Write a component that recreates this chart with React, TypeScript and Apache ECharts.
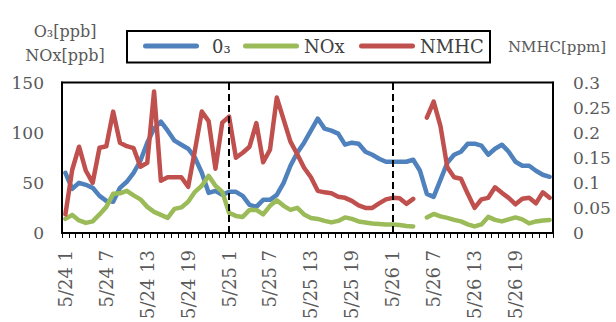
import React, { useEffect, useRef } from "react";
import * as echarts from "echarts";

// Hourly observations, 5/24 1h through 5/26 24h
const days = ["5/24", "5/25", "5/26"];
const hours = [1, 2, 3, 4, 5, 6, 7, 8, 9, 10, 11, 12, 13, 14, 15, 16, 17, 18, 19, 20, 21, 22, 23, 24];

// O3 [ppb]
const o3 = [
  60, 44, 50, 48, 45, 37, 32, 31, 45, 51,
  60, 72, 90, 104, 111, 102, 92, 88, 84, 75,
  60, 40, 42, 38, 41, 41, 37, 28, 26, 33,
  33, 38, 50, 67, 80, 90, 102, 114, 104, 102,
  99, 88, 90, 89, 81, 78, 74, 71, 71, 71,
  71, 73, 62, 39, 36, 53, 70, 78, 81, 89,
  89, 87, 78, 84, 88, 81, 71, 67, 67, 62,
  58, 56,
];

// NOx [ppb]
const nox = [
  14, 18, 12.5, 10, 11.5, 18.5, 26, 39, 39.5, 42,
  37.5, 33.5, 26, 21, 18, 15, 24, 25.5, 31, 41,
  47, 57, 47, 41, 20, 17, 16, 23, 23, 18.5,
  27, 32.5, 27, 23, 25, 18.5, 15, 14, 12, 10.5,
  12, 15.5, 14, 11.5, 10.5, 9.5, 9, 8.5, 8.5, 8,
  7, 6.5, null, 15.5, 19, 16.5, 15, 13, 11.5, 8.5,
  6.5, 8.5, 16, 13, 11.5, 13.5, 15.5, 13.5, 9.5, 11.5,
  12.5, 13,
];

// NMHC [ppm]
const nmhc = [
  0.037, 0.126, 0.172, 0.124, 0.1, 0.17, 0.173, 0.242, 0.18, 0.173,
  0.169, 0.132, 0.14, 0.282, 0.104, 0.111, 0.111, 0.111, 0.092, 0.165,
  0.242, 0.223, 0.128, 0.22, 0.232, 0.15, 0.16, 0.172, 0.219, 0.141,
  0.166, 0.27, 0.226, 0.182, 0.157, 0.13, 0.111, 0.084, 0.081, 0.079,
  0.072, 0.07, 0.064, 0.055, 0.05, 0.05, 0.059, 0.067, 0.07, 0.069,
  0.058, 0.068, null, 0.23, 0.262, 0.213, 0.131, 0.111, 0.108, 0.078,
  0.05, 0.067, 0.07, 0.091, 0.08, 0.07, 0.057, 0.068, 0.07, 0.059,
  0.081, 0.07,
];

const categories = days.flatMap((d) => hours.map((h) => `${d} ${h}`));
const dayMarks = ["5/25 1", "5/26 1"];

const seriesNames = ["0₃", "NOx", "NMHC"];
const colors = ["#4F81BD", "#9BBB59", "#C0504D"];

const FONT = '"DejaVu Serif", "Liberation Serif", serif';
const GRAY = "#595959";
const CAPSULE = "path://M2.5,0L53.5,0A2.5,2.5,0,0,1,53.5,5L2.5,5A2.5,2.5,0,0,1,2.5,0Z";

const legendAt = (name: string, left: number, pad = 0) => ({
  data: [name],
  left,
  top: 37,
  padding: 0,
  icon: CAPSULE,
  itemWidth: 56,
  itemHeight: 5,
  selectedMode: false,
  textStyle: { fontFamily: FONT, fontSize: 18, color: "#404040", padding: [0, 0, 0, pad] },
});

export default function App() {
  const ref = useRef<HTMLDivElement>(null);

  useEffect(() => {
    if (!ref.current) return;
    const chart = echarts.init(ref.current, undefined, { renderer: "svg" });
    const lineStyle = (color: string) => ({ color, width: 4.5, cap: "round", join: "round" });

    chart.setOption({
      animation: false,
      grid: {
        left: 62,
        right: 63,
        top: 82.5,
        bottom: 80.5,
        show: true,
        borderColor: "#000",
        borderWidth: 2,
      },
      legend: [
        legendAt(seriesNames[0], 143, 8),
        legendAt(seriesNames[1], 243),
        legendAt(seriesNames[2], 359),
      ],
      graphic: [
        {
          type: "rect",
          shape: { x: 127, y: 31, width: 363, height: 31.5 },
          style: { fill: "none", stroke: "#000", lineWidth: 2 },
          silent: true,
        },
        {
          type: "text",
          x: 65,
          y: 31,
          style: { text: "O₃[ppb]", fontFamily: FONT, fontSize: 16, fill: GRAY, align: "center", verticalAlign: "middle" },
        },
        {
          type: "text",
          x: 65,
          y: 55,
          style: { text: "NOx[ppb]", fontFamily: FONT, fontSize: 16, fill: GRAY, align: "center", verticalAlign: "middle" },
        },
        {
          type: "text",
          x: 557,
          y: 47,
          style: { text: "NMHC[ppm]", fontFamily: FONT, fontSize: 15, fill: GRAY, align: "center", verticalAlign: "middle" },
        },
      ],
      xAxis: {
        type: "category",
        data: categories,
        boundaryGap: true,
        axisLine: { lineStyle: { color: "#000", width: 2 } },
        axisTick: { show: true, interval: 0, length: 5, lineStyle: { color: "#000", width: 1 } },
        axisLabel: { interval: 5, rotate: 90, margin: 17, color: GRAY, fontSize: 18, fontFamily: FONT },
        splitLine: { show: false },
      },
      yAxis: [
        {
          type: "value",
          min: 0,
          max: 150,
          interval: 50,
          axisLine: { show: true, lineStyle: { color: "#000", width: 2 } },
          axisTick: { show: false },
          splitLine: { show: false },
          axisLabel: { margin: 18, color: GRAY, fontSize: 17, fontFamily: FONT },
        },
        {
          type: "value",
          position: "right",
          min: 0,
          max: 0.3,
          interval: 0.05,
          axisLine: { show: true, lineStyle: { color: "#000", width: 2 } },
          axisTick: { show: false },
          splitLine: { show: false },
          axisLabel: { margin: 20, color: GRAY, fontSize: 17, fontFamily: FONT },
        },
      ],
      series: [
        {
          name: seriesNames[0],
          type: "line",
          data: o3,
          symbol: "none",
          color: colors[0],
          lineStyle: lineStyle(colors[0]),
          markLine: {
            silent: true,
            symbol: ["none", "none"],
            label: { show: false },
            lineStyle: { color: "#000", width: 2, type: [7, 4] },
            data: dayMarks.map((d) => ({ xAxis: d })),
          },
        },
        {
          name: seriesNames[1],
          type: "line",
          data: nox,
          symbol: "none",
          color: colors[1],
          lineStyle: lineStyle(colors[1]),
        },
        {
          name: seriesNames[2],
          type: "line",
          yAxisIndex: 1,
          data: nmhc,
          symbol: "none",
          color: colors[2],
          lineStyle: lineStyle(colors[2]),
        },
      ],
    });

    return () => chart.dispose();
  }, []);

  return <div ref={ref} style={{ position: "absolute", left: 0, top: 0, width: 616, height: 322 }} />;
}
